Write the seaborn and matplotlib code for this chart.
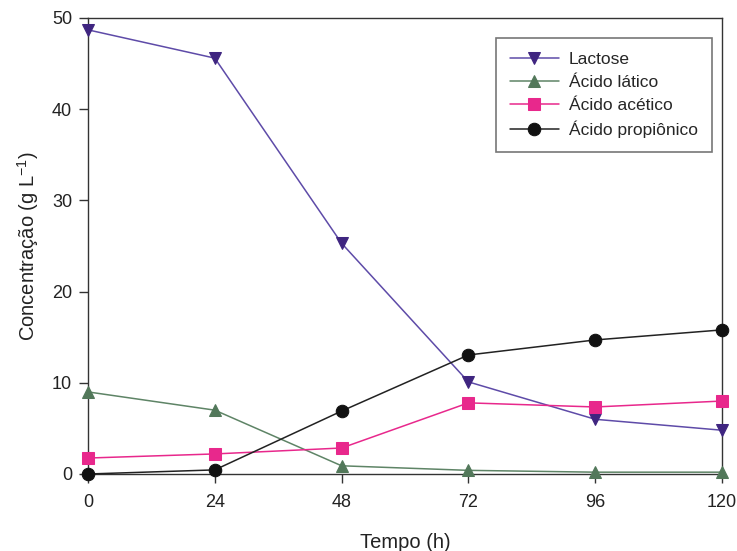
import matplotlib
matplotlib.use("Agg")
import matplotlib.pyplot as plt
import seaborn as sns
import pandas as pd

tempo = [0, 24, 48, 72, 96, 120]
lactose = [48.7, 45.6, 25.3, 10.1, 6.0, 4.8]
acido_latico = [9.0, 7.0, 0.9, 0.4, 0.2, 0.2]
acido_acetico = [1.75, 2.2, 2.85, 7.8, 7.35, 8.0]
acido_propionico = [0.0, 0.45, 6.9, 13.05, 14.7, 15.8]

series_names = ["Lactose", "Ácido lático", "Ácido acético", "Ácido propiônico"]
series_values = [lactose, acido_latico, acido_acetico, acido_propionico]

sns.set_theme(style="ticks")
plt.rcParams['font.family'] = ['Liberation Sans', 'DejaVu Sans']

rows = []
for name, vals in zip(series_names, series_values):
    for t, v in zip(tempo, vals):
        rows.append({"Tempo": t, "Conc": v, "Serie": name})
df = pd.DataFrame(rows)

line_colors = {"Lactose": "#5E4BA8", "Ácido lático": "#5E8466",
               "Ácido acético": "#E8288C", "Ácido propiônico": "#222222"}
marker_colors = {"Lactose": "#3F2580", "Ácido lático": "#52785A",
                 "Ácido acético": "#E8288C", "Ácido propiônico": "#111111"}
markers = {"Lactose": "v", "Ácido lático": "^", "Ácido acético": "s", "Ácido propiônico": "o"}

fig = plt.figure(figsize=(7.37, 5.51), dpi=100)
ax = fig.add_axes([88/737, 1-474/551, (722-88)/737, (474-18)/551])

for name in series_names:
    sub = df[df["Serie"] == name]
    sns.lineplot(data=sub, x="Tempo", y="Conc", ax=ax, color=line_colors[name],
                 marker=markers[name], markersize=9, markerfacecolor=marker_colors[name],
                 markeredgecolor=marker_colors[name], linewidth=1.1, label=name,
                 clip_on=False, zorder=3)

ax.set_xlim(0, 120)
ax.set_ylim(0, 50)
ax.set_xticks(tempo)
ax.set_yticks([0, 10, 20, 30, 40, 50])
ax.tick_params(axis='both', labelsize=13, direction='out', length=6.5, width=1, color='#333333', labelcolor='#222222')
ax.tick_params(axis='x', pad=8)
ax.tick_params(axis='y', pad=5)
for s in ax.spines.values():
    s.set_color('#333333')
    s.set_linewidth(1)
ax.set_xlabel("Tempo (h)", fontsize=14.5, labelpad=16, color='#222222')
ax.set_ylabel("Concentração (g L$^{\\mathregular{-1}}$)", fontsize=14.5, labelpad=8, color='#222222')

leg = ax.legend(loc='upper right', bbox_to_anchor=(0.984, 0.956), borderaxespad=0,
                fontsize=12.5, frameon=True,
                fancybox=False, edgecolor='#555555', handlelength=2.8, handletextpad=0.6,
                borderpad=0.8, labelspacing=0.45)
leg.get_frame().set_linewidth(1.2)

fig.savefig("out.png", dpi=100)
